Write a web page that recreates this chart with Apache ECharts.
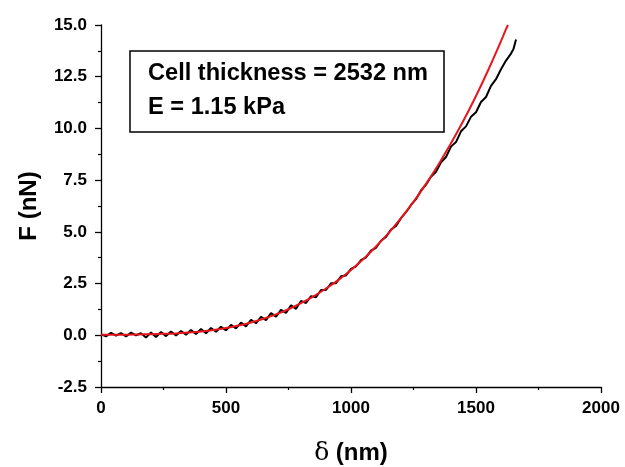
<!DOCTYPE html>
<html>
<head>
<meta charset="utf-8">
<script src="https://cdn.jsdelivr.net/npm/echarts@6/dist/echarts.min.js"></script>
<style>
  html, body { margin: 0; padding: 0; background: #fff; }
  #chart { width: 625px; height: 467px; }
</style>
</head>
<body>
<div id="chart"></div>
<script>
// measured curve (black), step 20 nm
const measDelta = [0, 20, 40, 60, 80, 100, 120, 140, 160, 180, 200, 220, 240, 260, 280, 300, 320, 340, 360, 380,
  400, 420, 440, 460, 480, 500, 520, 540, 560, 580, 600, 620, 640, 660, 680, 700, 720, 740, 760, 780,
  800, 820, 840, 860, 880, 900, 920, 940, 960, 980, 1000, 1020, 1040, 1060, 1080, 1100, 1120, 1140, 1160, 1180,
  1200, 1220, 1240, 1260, 1280, 1300, 1320, 1340, 1360, 1380, 1400, 1420, 1440, 1460, 1480, 1500, 1520, 1540, 1560, 1580,
  1600, 1620, 1640, 1650, 1660]
const measForce = [0.05, -0.05, 0.12, -0.02, 0.11, -0.06, 0.13, 0.00, 0.10, -0.11, 0.14, -0.08, 0.16, -0.04, 0.18, -0.01, 0.21, 0.03, 0.25, 0.06,
  0.30, 0.10, 0.35, 0.17, 0.41, 0.24, 0.50, 0.33, 0.61, 0.43, 0.75, 0.58, 0.89, 0.73, 1.07, 0.90, 1.23, 1.08, 1.45, 1.28,
  1.66, 1.56, 1.89, 1.84, 2.19, 2.19, 2.51, 2.52, 2.85, 2.89, 3.21, 3.33, 3.63, 3.77, 4.09, 4.23, 4.57, 4.75, 5.11, 5.29,
  5.66, 5.95, 6.30, 6.58, 7.00, 7.28, 7.66, 7.90, 8.36, 8.62, 9.12, 9.34, 9.86, 10.10, 10.56, 10.78, 11.28, 11.52, 12.06, 12.38,
  12.86, 13.28, 13.62, 13.84, 14.30]

// fitted curve (red), step 50 nm
const fitDelta = [0, 50, 100, 150, 200, 250, 300, 350, 400, 450, 500, 550, 600, 650, 700, 750, 800, 850, 900, 950,
  1000, 1050, 1100, 1150, 1200, 1250, 1300, 1350, 1400, 1450, 1500, 1550, 1600, 1620, 1628]
const fitForce = [0.03, 0.03, 0.03, 0.04, 0.05, 0.07, 0.09, 0.13, 0.18, 0.25, 0.35, 0.47, 0.62, 0.80, 1.01, 1.26, 1.55, 1.88, 2.26, 2.68,
  3.16, 3.69, 4.29, 4.94, 5.66, 6.45, 7.32, 8.26, 9.28, 10.38, 11.57, 12.85, 14.22, 14.80, 15.0]

const xTicks = [0, 500, 1000, 1500, 2000]
const yTicks = [-2.5, 0, 2.5, 5, 7.5, 10, 12.5, 15]

const toPairs = (xs, ys) => xs.map((x, i) => [x, ys[i]])

const chart = echarts.init(document.getElementById('chart'))
const font = 'Liberation Sans, Arial, sans-serif'

chart.setOption({
  animation: false,
  backgroundColor: '#fff',
  grid: { left: 101, right: 24, top: 25, bottom: 80, outerBoundsMode: 'none', containLabel: false },
  xAxis: {
    type: 'value',
    min: xTicks[0],
    max: xTicks[xTicks.length - 1],
    interval: 500,
    name: '{d|δ} (nm)',
    nameLocation: 'middle',
    nameGap: 54,
    nameTextStyle: {
      fontFamily: font, fontWeight: 'bold', fontSize: 24, color: '#000',
      rich: { d: { fontFamily: 'DejaVu Serif, serif', fontWeight: 'normal', fontSize: 25, color: '#000' } }
    },
    axisLine: { onZero: false, lineStyle: { color: '#000', width: 1.3 } },
    axisTick: { inside: false, length: 6, lineStyle: { color: '#000', width: 1.3 } },
    minorTick: { show: true, splitNumber: 2, length: 3, lineStyle: { color: '#000', width: 1.2 } },
    axisLabel: {
      margin: 13, fontFamily: font, fontWeight: 'bold', fontSize: 17, color: '#000',
      formatter: v => String(v)
    },
    splitLine: { show: false }
  },
  yAxis: {
    type: 'value',
    min: yTicks[0],
    max: yTicks[yTicks.length - 1],
    interval: 2.5,
    name: 'F (nN)',
    nameLocation: 'middle',
    nameGap: 60,
    nameRotate: 90,
    nameTextStyle: { fontFamily: font, fontWeight: 'bold', fontSize: 24, color: '#000' },
    axisLine: { onZero: false, lineStyle: { color: '#000', width: 1.3 } },
    axisTick: { inside: false, length: 6, lineStyle: { color: '#000', width: 1.3 } },
    minorTick: { show: true, splitNumber: 2, length: 3, lineStyle: { color: '#000', width: 1.2 } },
    axisLabel: {
      margin: 14, fontFamily: font, fontWeight: 'bold', fontSize: 17, color: '#000',
      formatter: v => v.toFixed(1)
    },
    splitLine: { show: false }
  },
  graphic: [
    {
      type: 'rect',
      shape: { x: 130, y: 51, width: 314, height: 81 },
      style: { fill: '#fff', stroke: '#000', lineWidth: 1.5 },
      z: 10
    },
    {
      type: 'text',
      x: 148, y: 73,
      style: { text: 'Cell thickness = 2532 nm', font: 'bold 23.6px ' + font, fill: '#000', textVerticalAlign: 'middle' },
      z: 11
    },
    {
      type: 'text',
      x: 148, y: 107,
      style: { text: 'E = 1.15 kPa', font: 'bold 23.6px ' + font, fill: '#000', textVerticalAlign: 'middle' },
      z: 11
    }
  ],
  series: [
    {
      type: 'line',
      data: toPairs(measDelta, measForce),
      showSymbol: false,
      lineStyle: { color: '#000', width: 2 },
      z: 2
    },
    {
      type: 'line',
      data: toPairs(fitDelta, fitForce),
      showSymbol: false,
      smooth: 0.3,
      lineStyle: { color: '#e8161c', width: 2 },
      z: 3
    }
  ]
})
</script>
</body>
</html>
